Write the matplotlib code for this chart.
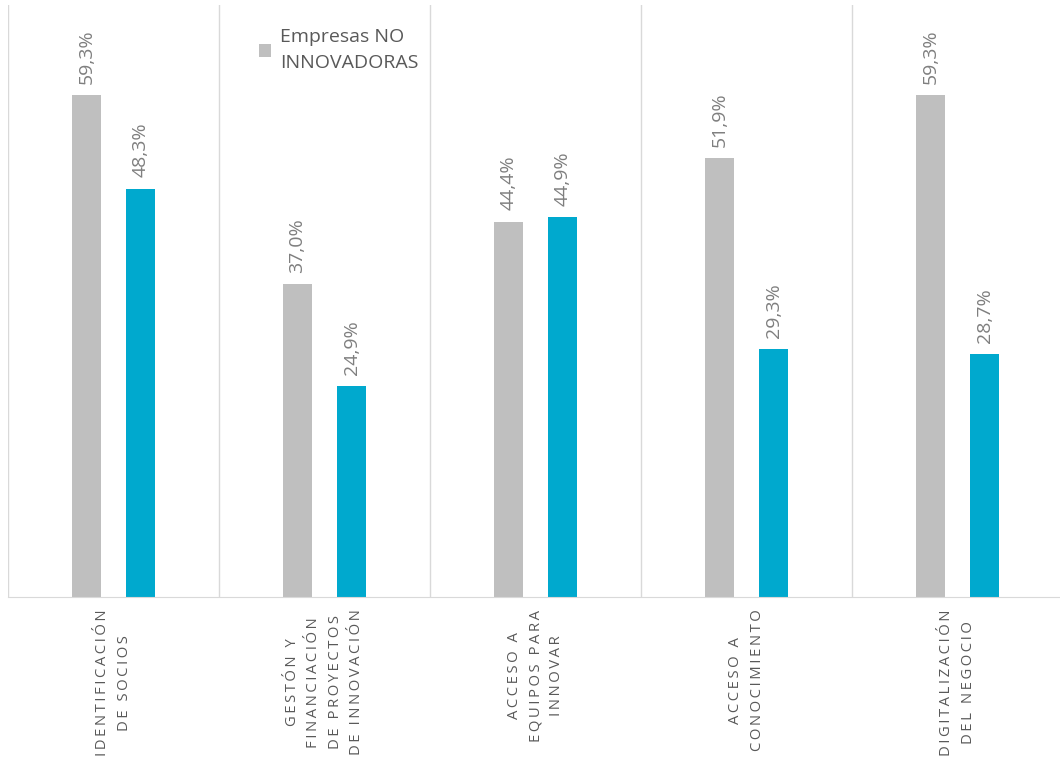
import numpy as np
import matplotlib.pyplot as plt

plt.rcParams['font.family'] = ['Open Sans', 'DejaVu Sans']

# data
categorias = ["IDENTIFICACIÓN\nDE SOCIOS",
              "GESTÓN Y\nFINANCIACIÓN\nDE PROYECTOS\nDE INNOVACIÓN",
              "ACCESO A\nEQUIPOS PARA\nINNOVAR",
              "ACCESO A\nCONOCIMIENTO",
              "DIGITALIZACIÓN\nDEL NEGOCIO"]
no_innovadoras = [59.3, 37.0, 44.4, 51.9, 59.3]
innovadoras = [48.3, 24.9, 44.9, 29.3, 28.7]

gris = '#bfbfbf'
azul = '#00a9ce'
texto = '#595959'
linea = '#d9d9d9'


def espaciar(s):
    # letter spacing like the original
    return "\n".join("\u2009".join(list(l)) for l in s.split("\n"))


fig = plt.figure(figsize=(10.6, 7.63), dpi=100)
ax = fig.add_axes([8 / 1060, 1 - 597 / 763, 1055 / 1060, 592 / 763])

x = np.arange(len(categorias))
w = 0.137
off = 0.128
b1 = ax.bar(x - off, no_innovadoras, w, color=gris, label='Empresas NO\nINNOVADORAS')
b2 = ax.bar(x + off, innovadoras, w, color=azul, label='_nolegend_')

for bars, vals in [(b1, no_innovadoras), (b2, innovadoras)]:
    for r, v in zip(bars, vals):
        ax.annotate(f"{v:.1f}%".replace('.', ','),
                    (r.get_x() + r.get_width() / 2, v),
                    xytext=(0, 8), textcoords='offset points',
                    rotation=90, ha='center', va='bottom',
                    fontsize=14, color='#7f7f7f')

for i in range(len(categorias) + 1):
    ax.axvline(i - 0.5, color=linea, lw=1, zorder=0)

ax.set_xlim(-0.5, len(categorias) - 0.5)
ax.set_ylim(0, 70)
ax.set_yticks([])
ax.set_xticks(x)
ax.set_xticklabels([espaciar(c) for c in categorias], rotation=90,
                   ha='center', va='top', multialignment='center',
                   fontsize=10.7, color=texto, linespacing=1.55)
ax.tick_params(axis='x', length=0, pad=9)
for s in ['top', 'left', 'right']:
    ax.spines[s].set_visible(False)
ax.spines['bottom'].set_color(linea)

leg = ax.legend(loc='upper left', bbox_to_anchor=(0.221, 0.99), frameon=False,
                fontsize=14, handlelength=0.65, handleheight=0.65,
                handletextpad=0.45, labelcolor=texto)
for t in leg.get_texts():
    t.set_linespacing(1.55)

fig.savefig('out.png', dpi=100)
